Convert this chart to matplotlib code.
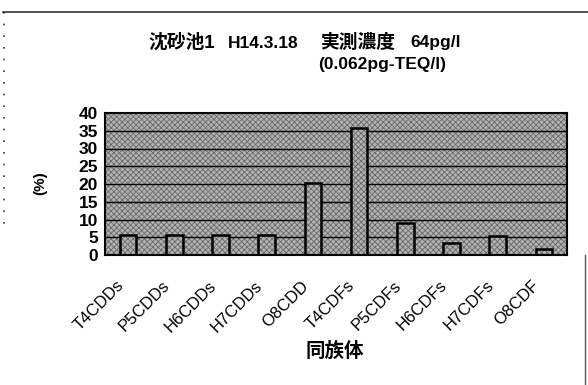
import matplotlib
matplotlib.use("Agg")
import matplotlib.pyplot as plt
from matplotlib.patches import Rectangle
from matplotlib.lines import Line2D
import matplotlib.transforms as mtransforms

plt.rcParams['font.family'] = ['Liberation Sans', 'Noto Sans CJK JP', 'DejaVu Sans']
plt.rcParams['hatch.linewidth'] = 0.6

categories = ['T4CDDs', 'P5CDDs', 'H6CDDs', 'H7CDDs', 'O8CDD',
              'T4CDFs', 'P5CDFs', 'H6CDFs', 'H7CDFs', 'O8CDF']
values = [5.6, 5.6, 5.6, 5.5, 20.2, 35.8, 9.0, 3.4, 5.4, 1.8]
yticks = [0, 5, 10, 15, 20, 25, 30, 35, 40]

title_parts = ['沈砂池1', 'H14.3.18', '実測濃度', '64pg/l']
title_line2 = '(0.062pg-TEQ/l)'
xlabel = '同族体'
ylabel = '(%)'

W, H = 588, 385
fig = plt.figure(figsize=(W / 100, H / 100), dpi=100)
ax = fig.add_axes([105 / W, 1 - 255 / H, 462 / W, 142 / H])

fill = '#b2b2b2'
texture = '#6a6a6a'
ax.set_facecolor(fill)
# stippled texture over the plot background
ax.add_patch(Rectangle((0, 0), 1, 1, transform=ax.transAxes, facecolor='none',
                       edgecolor=texture, hatch='xxxxxx', linewidth=0, zorder=0.5))

x = list(range(len(categories)))
ax.set_ylim(0, 40)
ax.set_xlim(-0.5, len(categories) - 0.5)
for yv in yticks[1:-1]:
    ax.axhline(yv, color='black', linewidth=1.0, zorder=1)

# textured bar bodies, then black outlines on top
ax.bar(x, values, width=0.36, facecolor=fill, edgecolor=texture,
       linewidth=0, hatch='xxxxxx', zorder=2)
ax.bar(x, values, width=0.36, facecolor='none', edgecolor='black',
       linewidth=1.8, zorder=3)

for s in ax.spines.values():
    s.set_linewidth(1.5)
    s.set_color('black')
    s.set_zorder(4)

ax.set_yticks(yticks)
ax.set_yticklabels([str(v) for v in yticks], fontsize=12.5, fontweight='bold')
ax.tick_params(axis='y', length=0, pad=5)
ax.set_xticks(x)
ax.set_xticklabels(categories, rotation=45, ha='right', rotation_mode='anchor',
                   fontsize=12)
ax.tick_params(axis='x', length=0, pad=0)
offset = mtransforms.ScaledTranslation(-12 / 100, -23 / 100, fig.dpi_scale_trans)
for lab in ax.get_xticklabels():
    lab.set_transform(lab.get_transform() + offset)

fig.text(40 / W, 1 - 183 / H, ylabel, rotation=90, ha='center', va='center',
         fontsize=11, fontweight='bold')
fig.text(335 / W, 1 - 351 / H, xlabel, ha='center', va='center',
         fontsize=14, fontweight='bold')

# two-line title, pieces placed left-aligned
title_x = [148, 228, 320, 410]
for px, txt in zip(title_x, title_parts):
    size = 13.5 if txt[0] in '沈実' else 12.5
    fig.text(px / W, 1 - 43 / H, txt, ha='left', va='center',
             fontsize=size, fontweight='bold')
fig.text(318 / W, 1 - 65 / H, title_line2, ha='left', va='center',
         fontsize=12.5, fontweight='bold')

# page border
fig.add_artist(Line2D([3 / W, 1.0], [1 - 12 / H, 1 - 12 / H],
                      transform=fig.transFigure, color='#333333', linewidth=1.2))
fig.add_artist(Line2D([585 / W, 585 / W], [0, 1 - 255 / H],
                      transform=fig.transFigure, color='#555555', linewidth=1.0))
fig.add_artist(Line2D([4 / W, 4 / W], [1 - 12 / H, 1 - 230 / H],
                      transform=fig.transFigure, color='#333333', linewidth=1.2,
                      linestyle=(0, (1, 6))))

fig.savefig('out.png', dpi=100)
